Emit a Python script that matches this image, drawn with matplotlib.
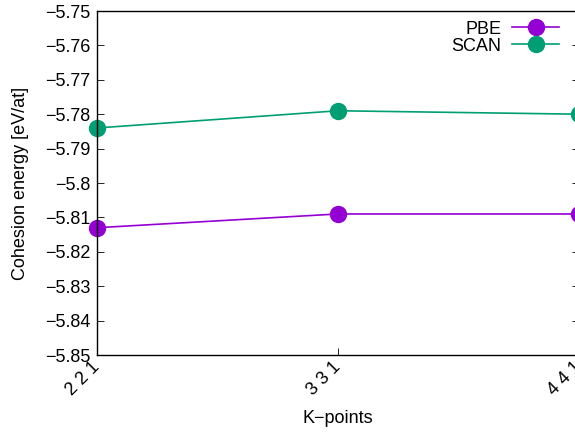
import matplotlib
matplotlib.use("Agg")
import matplotlib.pyplot as plt

kpoints = ["2 2 1", "3 3 1", "4 4 1"]
pbe = [-5.813, -5.809, -5.809]
scan = [-5.784, -5.779, -5.780]
yticks = [-5.75, -5.76, -5.77, -5.78, -5.79, -5.80, -5.81, -5.82, -5.83, -5.84, -5.85]
ytick_labels = ["−5.75", "−5.76", "−5.77", "−5.78", "−5.79", "−5.8", "−5.81", "−5.82", "−5.83", "−5.84", "−5.85"]

plt.rcParams['font.family'] = ['Liberation Sans', 'DejaVu Sans']
fig = plt.figure(figsize=(5.75, 4.33), dpi=100)
W, H = 575, 433
ax = fig.add_axes([97 / W, 1 - 355 / H, (579 - 97) / W, (355 - 11) / H])
x = list(range(len(kpoints)))
ax.plot(x, pbe, color="#9400D3", lw=1.2, marker="o", ms=11.5, label="PBE", clip_on=False)
ax.plot(x, scan, color="#009E73", lw=1.2, marker="o", ms=11.5, label="SCAN", clip_on=False)
ax.set_xlim(0, 2)
ax.set_ylim(-5.85, -5.75)
ax.set_yticks(yticks)
ax.set_yticklabels(ytick_labels, fontsize=13)
ax.set_xticks(x)
ax.set_xticklabels(kpoints, rotation=45, ha="right", va="center", rotation_mode="anchor", fontsize=13)
ax.tick_params(axis="both", direction="in", length=5, width=0.6, right=True, top=False)
ax.tick_params(axis="x", pad=7)
ax.tick_params(axis="y", pad=5)
for s in ax.spines.values():
    s.set_linewidth(1.0)
ax.set_xlabel("K−points", fontsize=13, va="top")
ax.xaxis.set_label_coords(0.5, (355 - 410) / 344)
ax.set_ylabel("Cohesion energy [eV/at]", fontsize=13, va="center")
ax.yaxis.set_label_coords((21 - 97) / (579 - 97), 0.5)
leg = ax.legend(loc="upper right", bbox_to_anchor=(572 / W, 1 - 8 / H), bbox_transform=fig.transFigure,
                frameon=False, markerfirst=False, fontsize=13, handlelength=2.6,
                labelspacing=0.0, borderpad=0.2, handletextpad=0.6)
for t in leg.get_texts():
    t.set_ha("right")
fig.savefig("out.png", dpi=100)
